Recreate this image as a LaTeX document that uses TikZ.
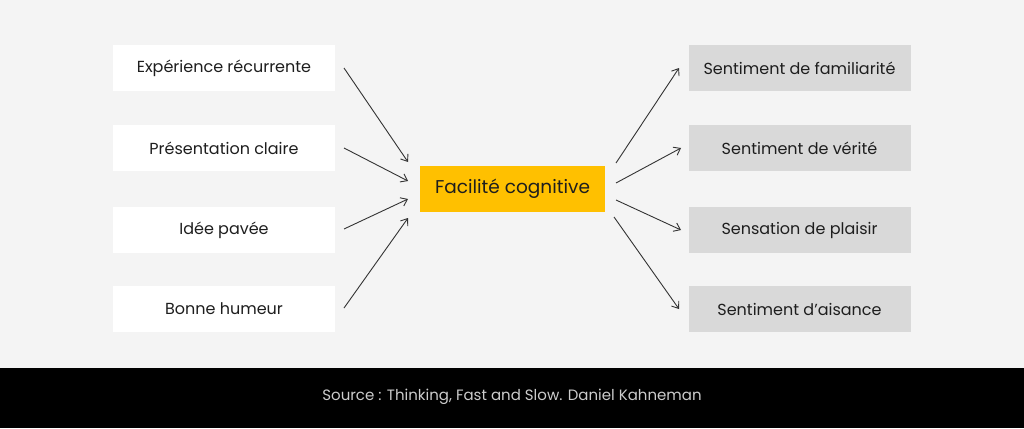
\documentclass[tikz,border=0pt]{standalone}
\usepackage{fontspec}
\setmainfont{Poppins}
\usetikzlibrary{arrows.meta}
\definecolor{bg}{HTML}{F4F4F4}
\definecolor{gold}{HTML}{FFC000}
\definecolor{greybox}{HTML}{D9D9D9}
\definecolor{ink}{HTML}{1E1E1E}
\definecolor{arrowc}{HTML}{333333}
\tikzset{
  box/.style={draw=none, minimum width=222pt, minimum height=46pt, inner sep=0pt, text=ink, font=\fontsize{16}{18}\selectfont},
  leftbox/.style={box, fill=white},
  rightbox/.style={box, fill=greybox},
  centerbox/.style={box, fill=gold, minimum width=185pt, font=\fontsize{18.5}{20}\selectfont},
  arr/.style={draw=arrowc, line width=0.9pt, -{Straight Barb[length=6pt,width=9pt]}}
}
\begin{document}
\begin{tikzpicture}[x=1pt,y=-1pt]
\fill[bg] (0,0) rectangle (1024,368);
\fill[black] (0,368) rectangle (1024,428);
\useasboundingbox (0,0) rectangle (1024,428);
\node[leftbox] (l1) at (224,68) {Expérience récurrente};
\node[leftbox] (l2) at (224,148) {Présentation claire};
\node[leftbox] (l3) at (224,230) {Idée pavée};
\node[leftbox] (l4) at (224,309) {Bonne humeur};
\node[centerbox] (c) at (512.5,189) {Facilité cognitive};
\node[rightbox] (r1) at (799.5,68) {Sentiment de familiarité};
\node[rightbox] (r2) at (799.5,148) {Sentiment de vérité};
\node[rightbox] (r3) at (799.5,230) {Sensation de plaisir};
\node[rightbox] (r4) at (799.5,309) {Sentiment d’aisance};
\node[text=white!80!black, font=\fontsize{15}{17}\selectfont] (src) at (512,397) {Source : Thinking, Fast and Slow. Daniel Kahneman};
\coordinate (a1s) at (344,68); \coordinate (a1e) at (408,162);
\coordinate (a2s) at (344,148); \coordinate (a2e) at (408,181);
\coordinate (a3s) at (344,229); \coordinate (a3e) at (408,199);
\coordinate (a4s) at (344,308); \coordinate (a4e) at (408,218);
\coordinate (b1s) at (616,163); \coordinate (b1e) at (679,68);
\coordinate (b2s) at (616,183); \coordinate (b2e) at (681,148);
\coordinate (b3s) at (616,200); \coordinate (b3e) at (681,230);
\coordinate (b4s) at (614,217); \coordinate (b4e) at (679,309);
\foreach \i in {1,2,3,4} {
  \draw[arr] (a\i s) -- (a\i e);
  \draw[arr] (b\i s) -- (b\i e);
}
\end{tikzpicture}
\end{document}
